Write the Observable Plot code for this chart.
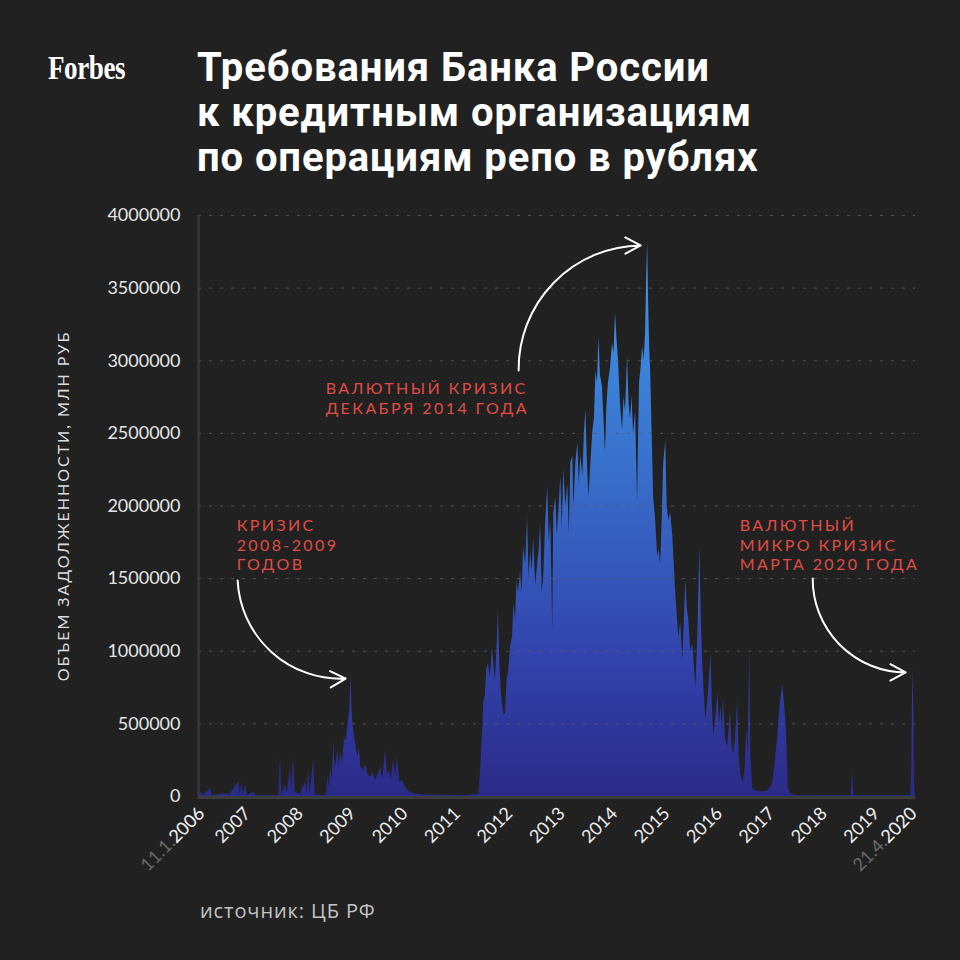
<!DOCTYPE html>
<html><head><meta charset="utf-8">
<script src="https://cdn.jsdelivr.net/npm/d3@7"></script>
<script src="https://cdn.jsdelivr.net/npm/@observablehq/plot@0.6"></script>
<style>
html,body{margin:0;padding:0;background:#212121;}
#wrap{position:relative;width:960px;height:960px;background:#212121;overflow:hidden;font-family:Lato,sans-serif;}
#logo{position:absolute;left:48px;top:52px;font-family:"Liberation Serif",serif;font-weight:700;font-size:33px;line-height:1;color:#fff;transform:scaleX(0.82);transform-origin:0 0;letter-spacing:-0.5px;}
#title{position:absolute;left:197px;top:45px;font-family:Roboto,sans-serif;font-weight:700;font-size:40px;line-height:45px;letter-spacing:0.9px;color:#fff;}
#chart{position:absolute;left:0;top:195px;}
#source{position:absolute;left:200px;top:901px;font-family:"Open Sans",sans-serif;font-size:20px;line-height:1;letter-spacing:0.9px;color:#c4c4c4;}
#chart g[aria-label="text"] text{letter-spacing:2.4px;}
#chart g[aria-label="y-axis label"] text{letter-spacing:2px;}
</style>
</head><body>
<div id="wrap">
<div id="logo">Forbes</div>
<div id="title">Требования Банка России<br>к кредитным организациям<br>по операциям репо в рублях</div>
<div id="chart"></div>
<div id="source">источник: ЦБ РФ</div>
</div>
<script>
// Observation times (decimal years) and repo claims, mln RUB
const repoYears = [
  2006.03, 2006.09, 2006.12, 2006.27, 2006.30, 2006.61, 2006.64, 2006.83, 2006.86, 2006.89, 2006.92, 2006.97,
  2007.00, 2007.14, 2007.17, 2007.40, 2007.63, 2007.66, 2007.69, 2007.76, 2007.80, 2007.86, 2007.88, 2007.92, 2007.95,
  2008.05, 2008.16, 2008.19, 2008.22, 2008.25, 2008.32, 2008.35, 2008.50, 2008.58, 2008.60, 2008.63, 2008.66, 2008.69, 2008.72, 2008.75, 2008.80, 2008.83, 2008.86, 2008.90, 2008.93, 2008.96,
  2009.00, 2009.04, 2009.06, 2009.08, 2009.10, 2009.14, 2009.20, 2009.23, 2009.26, 2009.32, 2009.36, 2009.40, 2009.45, 2009.50, 2009.55, 2009.60, 2009.65, 2009.70, 2009.75, 2009.79, 2009.83, 2009.87, 2009.91, 2009.95, 2009.99,
  2010.03, 2010.09, 2010.15, 2010.20, 2010.25, 2010.35, 2010.49, 2010.70, 2010.90, 2011.10, 2011.30, 2011.50, 2011.61, 2011.64, 2011.68, 2011.71, 2011.74, 2011.77, 2011.80, 2011.84, 2011.88, 2011.91, 2011.94, 2011.97,
  2012.00, 2012.03, 2012.06, 2012.08, 2012.11, 2012.14, 2012.17, 2012.20, 2012.24, 2012.28, 2012.31, 2012.34, 2012.37, 2012.40, 2012.44, 2012.47, 2012.50, 2012.54, 2012.58, 2012.61, 2012.64, 2012.67, 2012.70, 2012.74, 2012.78, 2012.81, 2012.84, 2012.87, 2012.90, 2012.94, 2012.98,
  2013.01, 2013.04, 2013.08, 2013.10, 2013.14, 2013.17, 2013.20, 2013.24, 2013.27, 2013.30, 2013.34, 2013.38, 2013.41, 2013.44, 2013.48, 2013.50, 2013.54, 2013.58, 2013.61, 2013.64, 2013.68, 2013.71, 2013.74, 2013.77, 2013.80, 2013.84, 2013.88, 2013.91, 2013.94, 2013.97,
  2014.00, 2014.03, 2014.07, 2014.10, 2014.13, 2014.16, 2014.19, 2014.23, 2014.27, 2014.30, 2014.33, 2014.36, 2014.39, 2014.43, 2014.47, 2014.50, 2014.53, 2014.57, 2014.60, 2014.63, 2014.66, 2014.69, 2014.73, 2014.77, 2014.79, 2014.81, 2014.84, 2014.87, 2014.90, 2014.93, 2014.95, 2014.97, 2014.99,
  2015.01, 2015.03, 2015.06, 2015.09, 2015.13, 2015.17, 2015.20, 2015.23, 2015.26, 2015.29, 2015.33, 2015.36, 2015.39, 2015.43, 2015.47, 2015.50, 2015.53, 2015.56, 2015.59, 2015.63, 2015.67, 2015.70, 2015.73, 2015.76, 2015.79, 2015.83, 2015.87, 2015.90, 2015.93, 2015.97,
  2016.01, 2016.04, 2016.07, 2016.10, 2016.13, 2016.18, 2016.23, 2016.26, 2016.29, 2016.33, 2016.37, 2016.40, 2016.43, 2016.46, 2016.48, 2016.52, 2016.56, 2016.59, 2016.62, 2016.65, 2016.68, 2016.72, 2016.76, 2016.79, 2016.82, 2016.85, 2016.88, 2016.91, 2016.94, 2016.97,
  2017.00, 2017.02, 2017.06, 2017.10, 2017.16, 2017.25, 2017.36, 2017.45, 2017.50, 2017.56, 2017.60, 2017.64, 2017.66, 2017.69, 2017.72, 2017.75, 2017.77, 2017.82, 2017.95, 2018.20, 2018.50, 2018.90, 2019.02, 2019.05, 2019.08, 2019.40, 2019.80, 2020.15, 2020.21, 2020.23, 2020.25, 2020.27, 2020.28, 2020.30
];
const repoValues = [
  10000, 30000, 5000, 55000, 5000, 20000, 5000, 100000, 10000, 95000, 10000, 80000,
  5000, 30000, 3000, 5000, 5000, 270000, 10000, 80000, 20000, 200000, 40000, 270000, 30000,
  10000, 100000, 20000, 180000, 20000, 250000, 10000, 5000, 10000, 140000, 60000, 180000, 120000, 375000, 180000, 315000, 200000, 300000, 230000, 400000, 380000,
  480000, 600000, 830000, 620000, 500000, 400000, 270000, 330000, 200000, 180000, 220000, 150000, 133000, 160000, 110000, 150000, 200000, 120000, 315000, 150000, 180000, 110000, 250000, 140000, 270000,
  100000, 110000, 60000, 40000, 30000, 15000, 10000, 8000, 8000, 5000, 6000, 10000, 15000, 150000, 410000, 650000, 700000, 880000, 915000, 820000, 1030000, 900000, 800000, 1000000,
  1280000, 900000, 700000, 640000, 560000, 570000, 800000, 850000, 1030000, 1100000, 1330000, 1200000, 1490000, 1400000, 1550000, 1400000, 1720000, 1600000, 1920000, 1500000, 1690000, 1550000, 1780000, 1450000, 1600000, 1700000, 1880000, 1400000, 1510000, 1900000, 2130000,
  1750000, 1900000, 1150000, 1950000, 2060000, 1800000, 1950000, 2200000, 1850000, 2250000, 2000000, 2150000, 1800000, 2300000, 2340000, 1990000, 2300000, 2430000, 2150000, 2350000, 2200000, 2500000, 2660000, 2300000, 2060000, 2300000, 2520000, 2600000, 2930000, 2850000,
  3160000, 2900000, 2820000, 2600000, 2360000, 2700000, 2850000, 2950000, 3120000, 3050000, 3330000, 3150000, 3000000, 2700000, 2520000, 2750000, 2650000, 3030000, 2700000, 2600000, 2750000, 2500000, 2650000, 2020000, 2500000, 2850000, 2950000, 3100000, 3000000, 3200000, 3550000, 3810000, 3400000,
  3100000, 2930000, 2500000, 2060000, 1900000, 1650000, 1700000, 1600000, 1900000, 2290000, 2450000, 2000000, 1900000, 1950000, 1800000, 1600000, 1400000, 1250000, 1100000, 1200000, 935000, 1200000, 1490000, 1300000, 1210000, 1000000, 1050000, 900000, 750000, 1100000,
  1710000, 1200000, 900000, 700000, 523000, 700000, 985000, 600000, 410000, 550000, 710000, 500000, 620000, 450000, 680000, 400000, 340000, 450000, 590000, 350000, 295000, 400000, 660000, 300000, 160000, 120000, 100000, 200000, 455000, 300000,
  1000000, 300000, 60000, 40000, 40000, 30000, 40000, 80000, 200000, 410000, 600000, 720000, 765000, 650000, 523000, 300000, 60000, 15000, 5000, 5000, 5000, 5000, 5000, 160000, 5000, 5000, 5000, 5000, 10000, 200000, 880000, 600000, 100000, 0
];

// Axis ticks
const yTicks = [0, 500000, 1000000, 1500000, 2000000, 2500000, 3000000, 3500000, 4000000];
const xTickLabels = ["2006", "2007", "2008", "2009", "2010", "2011", "2012", "2013", "2014", "2015", "2016", "2017", "2018", "2019", "2020"];
const xTickPos = [2006.27, 2007.185, 2008.228, 2009.272, 2010.315, 2011.359, 2012.402, 2013.445, 2014.489, 2015.532, 2016.576, 2017.619, 2018.662, 2019.706, 2020.447];
const xEdgeLabels = ["11.1.2006", "21.4.2020"];

// Annotations
const noteText = ["КРИЗИС\n2008-2009\nГОДОВ", "ВАЛЮТНЫЙ КРИЗИС\nДЕКАБРЯ 2014 ГОДА", "ВАЛЮТНЫЙ\nМИКРО КРИЗИС\nМАРТА 2020 ГОДА"];
const noteX = [2006.787, 2008.559, 2016.803];
const noteY = [1921000, 2864000, 1921000];
const arrowX1 = [2006.807, 2012.402, 2018.256];
const arrowY1 = [1487000, 2933000, 1501000];
const arrowX2 = [2008.957, 2014.831, 2020.108];
const arrowY2 = [812000, 3794000, 854000];
const arrowBend = [-45, 45, -45];

const toDate = t => { const y = Math.floor(t); const a = Date.UTC(y, 0, 1), b = Date.UTC(y + 1, 0, 1); return new Date(a + (t - y) * (b - a)); };
const data = repoYears.map((t, i) => ({date: toDate(t), value: repoValues[i]}));
const xStart = new Date(Date.UTC(2006, 0, 11)), xEnd = new Date(Date.UTC(2020, 3, 21));
const tickDates = xTickPos.map(toDate);
const labelOf = new Map(tickDates.map((d, i) => [+d, xTickLabels[i]]));
const edgeDates = [tickDates[0], tickDates[tickDates.length - 1]];
const edgeOf = new Map(edgeDates.map((d, i) => [+d, xEdgeLabels[i]]));

const gradient = (index, scales, values, dims) => {
  const ns = "http://www.w3.org/2000/svg";
  const defs = document.createElementNS(ns, "defs");
  const lg = document.createElementNS(ns, "linearGradient");
  lg.setAttribute("id", "repoGrad");
  lg.setAttribute("gradientUnits", "userSpaceOnUse");
  lg.setAttribute("x1", 0); lg.setAttribute("x2", 0);
  const y0 = scales && scales.y ? scales.y(0) : dims.height - dims.marginBottom;
  const y1 = scales && scales.y ? scales.y(4000000) : dims.marginTop;
  lg.setAttribute("y1", y0); lg.setAttribute("y2", y1);
  [[0, "#2b2a88"], [0.25, "#3244ad"], [0.6, "#3974cf"], [0.95, "#3e98e8"], [1, "#40a0ee"]].forEach(([o, c]) => {
    const s = document.createElementNS(ns, "stop");
    s.setAttribute("offset", o); s.setAttribute("stop-color", c);
    lg.appendChild(s);
  });
  defs.appendChild(lg);
  return defs;
};

const chart = Plot.plot({
  width: 960,
  height: 700,
  marginTop: 20,
  marginBottom: 99,
  marginLeft: 198,
  marginRight: 45,
  style: {background: "transparent", color: "#e6e6e6", fontFamily: "Lato, sans-serif", overflow: "visible"},
  x: {type: "utc", domain: [xStart, xEnd]},
  y: {domain: [0, 4000000]},
  marks: [
    gradient,
    Plot.areaY(data, {x: "date", y: "value", fill: "url(#repoGrad)", curve: "linear"}),
    Plot.gridY(yTicks.slice(1), {stroke: "#5a5a5a", strokeOpacity: 0.85, strokeDasharray: "3 8", strokeWidth: 1}),
    Plot.ruleX([xStart], {stroke: "#3c3c3c", strokeWidth: 2}),
    Plot.ruleY([0], {stroke: "#3c3c3c", strokeWidth: 3, dy: 1}),
    Plot.axisY(yTicks, {tickSize: 0, tickPadding: 18, tickFormat: d => String(d), fontSize: 18, fill: "#e6e6e6", label: null}),
    Plot.axisY([], {label: "ОБЪЕМ ЗАДОЛЖЕННОСТИ, МЛН РУБ", labelAnchor: "center", labelArrow: "none", labelOffset: 141, fontSize: 16, fill: "#dcdcdc"}),
    Plot.axisX(edgeDates, {tickFormat: d => edgeOf.get(+d), tickRotate: -45, tickSize: 0, tickPadding: 10, dx: -9, dy: 4, fontSize: 18, fill: "#6a6a6a", label: null}),
    Plot.axisX(tickDates, {tickFormat: d => labelOf.get(+d), tickRotate: -45, tickSize: 0, tickPadding: 10, dx: -9, dy: 4, fontSize: 18, fill: "#ededed", label: null}),
    Plot.text(d3.range(noteText.length), {x: i => toDate(noteX[i]), y: i => noteY[i], text: i => noteText[i], textAnchor: "start", lineAnchor: "top", fontSize: 16, lineHeight: 1.22, fill: "#e04c46"}),
    ...arrowBend.map((b, i) => Plot.arrow([i], {x1: j => toDate(arrowX1[j]), y1: j => arrowY1[j], x2: j => toDate(arrowX2[j]), y2: j => arrowY2[j], bend: b, stroke: "#ffffff", strokeWidth: 2, headLength: 13, headAngle: 56}))
  ]
});
document.getElementById("chart").appendChild(chart);
</script>
</body></html>
